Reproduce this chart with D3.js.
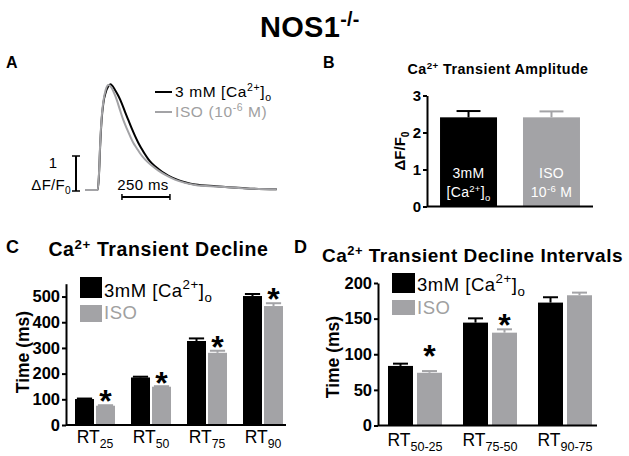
<!DOCTYPE html>
<html><head><meta charset="utf-8">
<script src="https://cdn.jsdelivr.net/npm/d3@7"></script>
<style>html,body{margin:0;padding:0;background:#fff;}svg{display:block;}</style>
</head><body>
<svg id="chart" width="629" height="456"></svg>
<script>
// ---------- DATA ----------
// Panel A: representative Ca2+ transients (time in ms, ΔF/F0)
const traceCaT = [0,56,62,69,76,85,97,111,122,146,163,181,198,215,233,250,267,285,302,319,337,372,406,441,476,510,563,675,762,850,988];
const traceCaV = [0,0,0.40,1.35,2.05,2.55,2.86,3.05,3.11,2.94,2.77,2.55,2.30,2.06,1.81,1.59,1.39,1.21,1.05,0.91,0.79,0.62,0.48,0.37,0.29,0.23,0.16,0.11,0.07,0.04,0.02];
const traceIsoT = [0,56,62,69,76,85,97,111,128,142,155,172,189,207,224,241,259,276,302,337,372,406,441,476,510,563,675,762,850,988];
const traceIsoV = [0,0,0.44,1.42,2.11,2.60,2.94,3.09,3.01,2.84,2.65,2.35,2.06,1.81,1.59,1.39,1.23,1.08,0.90,0.72,0.57,0.45,0.35,0.27,0.21,0.15,0.10,0.07,0.04,0.02];

// Panel B: amplitude
const ampGroups = ["ca","iso"];
const ampMean = [2.41, 2.41];
const ampErr  = [0.17, 0.16];

// Panel C: decline times
const declineCats = ["25","50","75","90"];
const declineCa   = [101, 185, 327, 502];
const declineCaErr= [2, 3, 10, 8];
const declineIso  = [75, 149, 281, 463];
const declineIsoErr=[2, 2, 8, 11];
const declineStarAt=[105, 175, 315, 504];
const declineTicks = [0,100,200,300,400,500];

// Panel D: decline intervals
const intervalCats = ["50-25","75-50","90-75"];
const intervalCa    = [83.6, 144.4, 172.5];
const intervalCaErr = [3.2, 6, 7.5];
const intervalIso   = [74, 130.3, 182.8];
const intervalIsoErr= [2.4, 4.7, 3.7];
const intervalStar  = [true, true, false];
const intervalStarAt= [102, 145.5, null];
const intervalTicks = [0,50,100,150,200];

const series = ["ca","iso"];

// ---------- STYLE ----------
const F = "'Liberation Sans', Arial, Helvetica, sans-serif";
const BLACK = "#000";
const GRAY = "#a3a3a6";
const GRAYTXT = "#a0a0a0";

const svg = d3.select("#chart");

function rich(g, x, y, parts, o) {
  const t = g.append("text").attr("x", x).attr("y", y)
    .attr("font-family", F).attr("font-size", o.size)
    .attr("font-weight", o.weight || "normal")
    .attr("fill", o.fill || BLACK)
    .attr("text-anchor", o.anchor || "start");
  if (o.ls) t.attr("letter-spacing", o.ls);
  if (o.rotate) t.attr("transform", `rotate(${o.rotate},${x},${y})`);
  const ss = o.ss || 0.68;
  let cur = 0;
  parts.forEach(([txt, kind]) => {
    const off = kind === "sup" ? -o.size * 0.38 : kind === "sub" ? o.size * 0.28 : 0;
    const ts = t.append("tspan").text(txt).attr("dy", off - cur);
    if (kind) ts.attr("font-size", o.size * ss);
    cur = off;
  });
  return t;
}

// ---------- TITLE ----------
rich(svg, 260, 37, [["NOS1"], ["-/-", "sup"]], {size: 29, weight: "bold", ls: 0.3});

// ---------- PANEL A ----------
const gA = svg.append("g");
rich(gA, 6, 68, [["A"]], {size: 16, weight: "bold"});
const xA = d3.scaleLinear().domain([0, 250]).range([87, 135]);
const yA = d3.scaleLinear().domain([0, 1]).range([190, 156]);
const lineA = d3.line().x(d => xA(d[0])).y(d => yA(d[1])).curve(d3.curveMonotoneX);
gA.append("path").datum(d3.zip(traceCaT, traceCaV)).attr("d", lineA)
  .attr("fill", "none").attr("stroke", BLACK).attr("stroke-width", 2);
gA.append("path").datum(d3.zip(traceIsoT, traceIsoV)).attr("d", lineA)
  .attr("fill", "none").attr("stroke", GRAY).attr("stroke-width", 2);
gA.insert("line", "path").attr("x1", 85).attr("x2", xA(0)).attr("y1", yA(0)).attr("y2", yA(0))
  .attr("stroke", GRAY).attr("stroke-width", 2);
// vertical scale bar (1 ΔF/F0)
const sbx = 76;
gA.append("line").attr("x1", sbx).attr("x2", sbx).attr("y1", yA(0) + 1).attr("y2", yA(1)).attr("stroke", BLACK).attr("stroke-width", 2);
[yA(0) + 1, yA(1)].forEach(y => gA.append("line").attr("x1", sbx - 4).attr("x2", sbx + 4).attr("y1", y).attr("y2", y).attr("stroke", BLACK).attr("stroke-width", 1.5));
rich(gA, 53, 168, [["1"]], {size: 15, anchor: "middle"});
rich(gA, 71, 190, [["ΔF/F"], ["0", "sub"]], {size: 15, anchor: "end", ls: 0.3});
// horizontal scale bar (250 ms)
const hs0 = 182, hs1 = hs0 + 250;
gA.append("line").attr("x1", xA(hs0)).attr("x2", xA(hs1)).attr("y1", 197).attr("y2", 197).attr("stroke", BLACK).attr("stroke-width", 2);
[xA(hs0), xA(hs1)].forEach(x => gA.append("line").attr("x1", x).attr("x2", x).attr("y1", 194).attr("y2", 200).attr("stroke", BLACK).attr("stroke-width", 1.5));
rich(gA, (xA(hs0) + xA(hs1)) / 2 - 3, 190, [["250 ms"]], {size: 15, anchor: "middle", ls: 0.4});
// legend
gA.append("line").attr("x1", 155).attr("x2", 172).attr("y1", 92).attr("y2", 92).attr("stroke", BLACK).attr("stroke-width", 2);
rich(gA, 175, 97, [["3 mM [Ca"], ["2+", "sup"], ["]"], ["o", "sub"]], {size: 15.5, ls: 0.6});
gA.append("line").attr("x1", 155).attr("x2", 172).attr("y1", 112).attr("y2", 112).attr("stroke", GRAY).attr("stroke-width", 2);
rich(gA, 175, 117, [["ISO (10"], ["-6", "sup"], [" M)"]], {size: 15.5, fill: GRAYTXT, ls: 0.6});

// ---------- PANEL B ----------
const gB = svg.append("g");
rich(gB, 323, 68, [["B"]], {size: 16, weight: "bold"});
rich(gB, 498, 74, [["Ca"], ["2+", "sup"], [" Transient Amplitude"]], {size: 14.3, weight: "bold", anchor: "middle", ls: 0.45});
const xB = d3.scaleBand().domain(ampGroups).range([427, 593]).paddingInner(0.313).paddingOuter(0.157);
const yB = d3.scaleLinear().domain([0, 3]).range([206.5, 95.5]);
const ampColor = [BLACK, GRAY];
ampGroups.forEach((g, i) => {
  const x0 = xB(g), bw = xB.bandwidth(), cx = x0 + bw / 2;
  gB.append("line").attr("x1", cx).attr("x2", cx).attr("y1", yB(ampMean[i])).attr("y2", yB(ampMean[i] + ampErr[i])).attr("stroke", ampColor[i]).attr("stroke-width", 2);
  gB.append("line").attr("x1", cx - bw * 0.21).attr("x2", cx + bw * 0.21).attr("y1", yB(ampMean[i] + ampErr[i])).attr("y2", yB(ampMean[i] + ampErr[i])).attr("stroke", ampColor[i]).attr("stroke-width", 2);
  gB.append("rect").attr("x", x0).attr("width", bw).attr("y", yB(ampMean[i])).attr("height", yB(0) - yB(ampMean[i])).attr("fill", ampColor[i]);
});
{
  const cx0 = xB("ca") + xB.bandwidth() / 2, cx1 = xB("iso") + xB.bandwidth() / 2;
  rich(gB, cx0, 178, [["3mM"]], {size: 14, fill: "#fff", anchor: "middle", ls: 0.3});
  rich(gB, cx0, 197, [["[Ca"], ["2+", "sup"], ["]"], ["o", "sub"]], {size: 14, fill: "#fff", anchor: "middle", ls: 0.3});
  rich(gB, cx1, 178, [["ISO"]], {size: 14, fill: "#fff", anchor: "middle", ls: 0.3});
  rich(gB, cx1, 197, [["10"], ["-6", "sup"], [" M"]], {size: 14, fill: "#fff", anchor: "middle", ls: 0.3});
}
const axB = gB.append("g").attr("transform", `translate(427,0)`)
  .call(d3.axisLeft(yB).tickValues([0, 1, 2, 3]).tickFormat(d3.format("d")).tickSize(4).tickPadding(2).tickSizeOuter(0));
gB.append("line").attr("x1", 427).attr("x2", 593).attr("y1", yB(0)).attr("y2", yB(0)).attr("stroke", BLACK).attr("stroke-width", 2);
rich(gB, 405, 151, [["ΔF/F"], ["0", "sub"]], {size: 15, weight: "bold", anchor: "middle", rotate: -90});

function styleAxis(ax, size) {
  ax.select(".domain").attr("stroke-width", 2);
  ax.selectAll(".tick line").attr("stroke-width", 2);
  ax.selectAll(".tick text").attr("font-family", F).attr("font-weight", "bold").attr("font-size", size).attr("fill", BLACK);
}
styleAxis(axB, 15);

// ---------- grouped bar helper ----------
function groupedBars(g, cats, xOuter, xInner, y, vals, errs, capFrac) {
  series.forEach((s, si) => {
    const col = si === 0 ? BLACK : GRAY;
    cats.forEach((c, i) => {
      const x0 = xOuter(c) + xOuter.bandwidth() / 2 + xInner(s);
      const bw = xInner.bandwidth(), cx = x0 + bw / 2;
      const v = vals[si][i], e = errs[si][i];
      g.append("line").attr("x1", cx).attr("x2", cx).attr("y1", y(v)).attr("y2", y(v + e)).attr("stroke", col).attr("stroke-width", 2);
      g.append("line").attr("x1", cx - bw * capFrac / 2).attr("x2", cx + bw * capFrac / 2).attr("y1", y(v + e)).attr("y2", y(v + e)).attr("stroke", col).attr("stroke-width", 2);
      g.append("rect").attr("x", x0).attr("width", bw).attr("y", y(v)).attr("height", y(0) - y(v)).attr("fill", col);
    });
  });
}

// ---------- PANEL C ----------
const gC = svg.append("g");
rich(gC, 6, 253, [["C"]], {size: 18, weight: "bold"});
rich(gC, 158.5, 256, [["Ca"], ["2+", "sup"], [" Transient  Decline"]], {size: 19.5, weight: "bold", anchor: "middle", ls: 0.6});
const xC = d3.scaleBand().domain(declineCats).range([67, 291]).paddingInner(0).paddingOuter(0);
const xCi = d3.scaleBand().domain(series).range([-20, 20]).paddingInner(0.095);
const yC = d3.scaleLinear().domain([0, 550]).range([425, 283.7]);
groupedBars(gC, declineCats, xC, xCi, yC, [declineCa, declineIso], [declineCaErr, declineIsoErr], 0.8);
declineCats.forEach((c, i) => {
  const cx = xC(c) + xC.bandwidth() / 2 + xCi("iso") + xCi.bandwidth() / 2;
  gC.append("text").attr("x", cx).attr("y", yC(declineStarAt[i]) + 14).attr("text-anchor", "middle")
    .attr("font-family", F).attr("font-weight", "bold").attr("font-size", 32).text("*");
});
const axC = gC.append("g").attr("transform", "translate(66,0)")
  .call(d3.axisLeft(yC).tickValues(declineTicks).tickSize(4).tickPadding(2).tickSizeOuter(0));
styleAxis(axC, 16.5);
gC.append("line").attr("x1", 66).attr("x2", 286).attr("y1", yC(0)).attr("y2", yC(0)).attr("stroke", BLACK).attr("stroke-width", 2);
declineCats.forEach(c => {
  rich(gC, xC(c) + xC.bandwidth() / 2, 443, [["RT"], [c, "sub"]], {size: 17.5, anchor: "middle", ss: 0.7});
});
rich(gC, 29, 352, [["Time (ms)"]], {size: 17.5, weight: "bold", anchor: "middle", rotate: -90});
// legend C
gC.append("rect").attr("x", 80).attr("y", 277).attr("width", 22).attr("height", 21).attr("fill", BLACK);
gC.append("rect").attr("x", 80).attr("y", 305).attr("width", 22).attr("height", 17).attr("fill", GRAY);
rich(gC, 104, 296.5, [["3mM [Ca"], ["2+", "sup"], ["]"], ["o", "sub"]], {size: 18.5, ls: 0.5, ss: 0.72});
rich(gC, 104, 318.5, [["ISO"]], {size: 18.5, fill: GRAYTXT, ls: 0.5});

// ---------- PANEL D ----------
const gD = svg.append("g");
rich(gD, 294, 253, [["D"]], {size: 18, weight: "bold"});
rich(gD, 472.5, 262, [["Ca"], ["2+", "sup"], [" Transient Decline Intervals"]], {size: 19, weight: "bold", anchor: "middle", ls: 0.5});
const xD = d3.scaleBand().domain(intervalCats).range([377.5, 602.5]).paddingInner(0).paddingOuter(0);
const xDi = d3.scaleBand().domain(series).range([-27, 27]).paddingInner(0.138);
const yD = d3.scaleLinear().domain([0, 200]).range([425.5, 283]);
groupedBars(gD, intervalCats, xD, xDi, yD, [intervalCa, intervalIso], [intervalCaErr, intervalIsoErr], 0.6);
intervalCats.forEach((c, i) => {
  if (!intervalStar[i]) return;
  const cx = xD(c) + xD.bandwidth() / 2 + xDi("iso") + xDi.bandwidth() / 2;
  gD.append("text").attr("x", cx).attr("y", yD(intervalStarAt[i]) + 14).attr("text-anchor", "middle")
    .attr("font-family", F).attr("font-weight", "bold").attr("font-size", 32).text("*");
});
const axD = gD.append("g").attr("transform", "translate(378,0)")
  .call(d3.axisLeft(yD).tickValues(intervalTicks).tickSize(4).tickPadding(2).tickSizeOuter(0));
styleAxis(axD, 16.5);
gD.append("line").attr("x1", 378).attr("x2", 597).attr("y1", yD(0)).attr("y2", yD(0)).attr("stroke", BLACK).attr("stroke-width", 2);
intervalCats.forEach(c => {
  rich(gD, xD(c) + xD.bandwidth() / 2, 446, [["RT"], [c, "sub"]], {size: 17.5, anchor: "middle", ss: 0.72});
});
rich(gD, 339, 357, [["Time (ms)"]], {size: 17.5, weight: "bold", anchor: "middle", rotate: -90});
// legend D
gD.append("rect").attr("x", 392).attr("y", 273).attr("width", 23).attr("height", 20).attr("fill", BLACK);
gD.append("rect").attr("x", 392).attr("y", 300).attr("width", 23).attr("height", 15).attr("fill", GRAY);
rich(gD, 417, 290.5, [["3mM [Ca"], ["2+", "sup"], ["]"], ["o", "sub"]], {size: 18.5, ls: 0.5, ss: 0.72});
rich(gD, 417, 313.5, [["ISO"]], {size: 18.5, fill: GRAYTXT, ls: 0.5});
</script>
</body></html>
